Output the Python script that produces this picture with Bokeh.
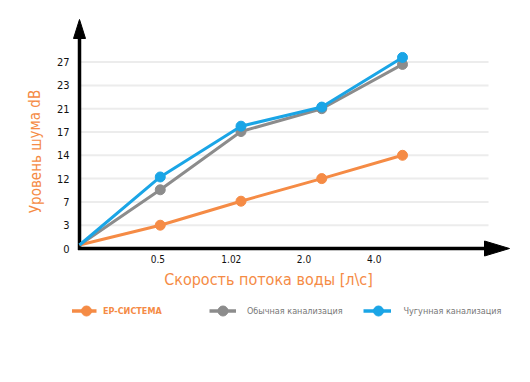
from bokeh.plotting import figure
from bokeh.models import Range1d
from bokeh.core.properties import value
from bokeh.embed import file_html
from bokeh.resources import INLINE

# ---- data ----
x_categories = ["0", "0.5", "1.02", "2.0", "4.0"]
x_pos = [0, 1, 2, 3, 4]
x_tick_labels = ["0.5", "1.02", "2.0", "4.0"]
x_tick_pos = [0.97, 1.88, 2.78, 3.65]

y_tick_labels = ["0", "3", "7", "12", "14", "17", "21", "23", "27"]
y_tick_pos = [0, 1, 2, 3, 4, 5, 6, 7, 8]

ep_sistema = [0.15, 1.0, 2.03, 3.0, 4.0]
obychnaya = [0.15, 2.52, 5.02, 6.0, 7.9]
chugunnaya = [0.15, 3.07, 5.25, 6.07, 8.2]

series_names = ["EP-СИСТЕМА", "Обычная канализация", "Чугунная канализация"]
series_values = [ep_sistema, obychnaya, chugunnaya]

# ---- styles / layout ----
ORANGE = "#f58b45"
GRAY = "#8c8c8c"
BLUE = "#1aa5e6"
FONT = value("'DejaVu Sans Condensed', 'Liberation Sans Narrow', Roboto")

W, H = 530, 382
OFF = 0                  # page offset of the canvas
X0, PX = 79.0, 80.75     # page x of data x=0, px per unit
Y0, PY = 248.0, 23.3     # page y of data y=0, px per unit


def dx(page_x):
    return (page_x - X0) / PX


def dy(page_y):
    return (Y0 - page_y) / PY


p = figure(width=W, height=H, output_backend="svg", toolbar_location=None,
           x_axis_location=None, y_axis_location=None, title=None,
           x_range=Range1d(dx(OFF), dx(OFF + W)), y_range=Range1d(dy(OFF + H), dy(OFF)),
           min_border=0)
p.outline_line_color = None
p.xgrid.visible = False
p.ygrid.visible = False
p.background_fill_color = "white"
p.border_fill_color = "white"

# gridlines
grid_y = y_tick_pos[1:]
p.segment(x0=[0] * len(grid_y), x1=[dx(488)] * len(grid_y), y0=grid_y, y1=grid_y,
          line_color="#ececec", line_width=2)

# axes lines with arrows
p.segment(x0=[0, dx(77.5)], y0=[dy(249.5), 0], x1=[0, dx(490)], y1=[dy(30), 0],
          line_color="black", line_width=3.5)
p.patch(x=[dx(73), dx(79), dx(85)], y=[dy(38), dy(19), dy(38)], color="black")
p.patch(x=[dx(484), dx(509), dx(484)], y=[dy(240.5), 0, dy(255.5)], color="black")

# tick labels
p.text(x=[dx(69)] * len(y_tick_pos), y=y_tick_pos, text=y_tick_labels,
       text_align="right", text_baseline="middle", text_font=FONT,
       text_font_size="11px", text_color="#111111")
p.text(x=x_tick_pos, y=[dy(258)] * len(x_tick_pos), text=x_tick_labels,
       text_align="center", text_baseline="middle", text_font=FONT,
       text_font_size="10px", text_color="#111111")

# series
colors = [ORANGE, GRAY, BLUE]
for vals, c in zip(series_values, colors):
    p.line(x_pos, vals, line_color=c, line_width=3)
    p.scatter(x_pos[1:], vals[1:], size=10, color=c)

# axis titles
p.text(x=[dx(35)], y=[dy(151)], text=["Уровень шума dB"], angle=1.5708,
       text_align="center", text_baseline="middle", text_font=FONT,
       text_font_size="15px", text_color=ORANGE)
p.text(x=[dx(268)], y=[dy(279)], text=["Скорость потока воды [л\\с]"],
       text_align="center", text_baseline="middle", text_font=FONT,
       text_font_size="16px", text_color=ORANGE)

# legend
leg_y = dy(310.5)
leg_line = [(71.5, 96, 86), (209, 235.5, 222.5), (363, 390.5, 378)]
leg_text_x = [102.5, 246.5, 403]
leg_text_col = [ORANGE, "#777777", "#777777"]
leg_style = ["bold", "normal", "normal"]
for (a, b, m), c, tx, name, tc, st in zip(leg_line, colors, leg_text_x,
                                           series_names, leg_text_col, leg_style):
    p.segment(x0=[dx(a)], x1=[dx(b)], y0=[leg_y], y1=[leg_y], line_color=c, line_width=3.5)
    p.scatter([dx(m)], [leg_y], size=10, color=c)
    p.text(x=[dx(tx)], y=[leg_y], text=[name], text_align="left",
           text_baseline="middle", text_font=FONT, text_font_size="9px",
           text_color=tc, text_font_style=st)

open("out.html", "w").write(file_html(p, INLINE))
